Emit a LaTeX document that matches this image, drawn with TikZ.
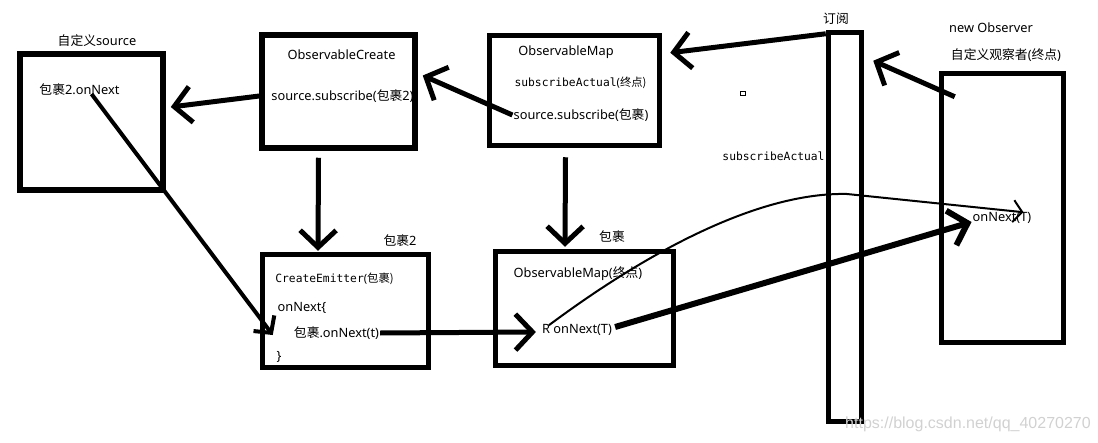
\documentclass[tikz,border=0pt]{standalone}
\usepackage{fontspec}
\setmainfont{Noto Sans}
\setmonofont{DejaVu Sans Mono}
\newfontfamily\cjk{Noto Sans CJK SC}
\newfontfamily\webfont{Liberation Sans}
\usepackage{tikz}
\usetikzlibrary{positioning,calc,arrows.meta}

\begin{document}
\begin{tikzpicture}[x=1pt, y=-1pt, every node/.style={inner sep=1pt, font=\fontsize{12.8}{15}\selectfont},
        box/.style={draw, line width=5.5pt, inner sep=0pt},
        code/.style={font=\fontsize{11.3}{13}\selectfont\ttfamily},
        arr/.style={line width=5pt, -{Straight Barb[length=17pt,width=36pt]}}]
    \useasboundingbox (0,0) rectangle (1098,442);
    % boxes
    \node[box, minimum width=143pt, minimum height=136pt] (src) at (91.5,122) {};
    \node[box, minimum width=153pt, minimum height=113pt] (create) at (338.5,91.5) {};
    \node[box, minimum width=170pt, minimum height=110pt] (map) at (574.5,90.5) {};
    \node[box, minimum width=33pt, minimum height=389pt] (bar) at (845,227) {};
    \node[box, minimum width=122pt, minimum height=269pt] (obs) at (1002.5,208) {};
    \node[box, minimum width=166pt, minimum height=113pt] (emit) at (345.5,311) {};
    \node[box, minimum width=178pt, minimum height=114pt] (mapend) at (584.5,308.5) {};
    % texts
    \node (srclabel) at (97,41) {{\cjk 自定义}source};
    \node (srcnext) at (79.5,90) {{\cjk 包裹}2.onNext};
    \node (createtitle) at (341.5,55) {ObservableCreate};
    \node (subcreate) at (342.5,96) {source.subscribe({\cjk 包裹}2)};
    \node (maptitle) at (566,52) {ObservableMap};
    \node[code] (mapactual) at (580.5,83) {subscribeActual{\normalfont(\cjk 终点)}};
    \node (submap) at (581,115) {source.subscribe({\cjk 包裹})};
    \node (barlabel) at (836,19) {\cjk 订阅};
    \node (obsnew) at (991,28) {new Observer};
    \node (obslabel) at (1006,55) {{\cjk 自定义观察者}({\cjk 终点})};
    \node[code] (actual) at (773.5,156) {subscribeActual};
    \node[draw, line width=0.8pt, minimum size=4.5pt, inner sep=0pt] (tinysq) at (743,93.5) {};
    \node (onnext) at (1002,218) {onNext(T)};
    \node (emitlabel) at (400,241) {{\cjk 包裹}2};
    \node[code] (emittitle) at (334.5,279) {CreateEmitter{\normalfont(\cjk 包裹)}};
    \node (onnextopen) at (302,308) {onNext\{};
    \node (innernext) at (336.5,333) {{\cjk 包裹}.onNext(t)};
    \node (close) at (279,357) {\}};
    \node (mapendlabel) at (612,237) {\cjk 包裹};
    \node (mapendtitle) at (578,274) {ObservableMap({\cjk 终点})};
    \node (ronext) at (577,330) {R onNext(T)};
    \node[text=black!18, font=\webfont\fontsize{16}{18}\selectfont] (web) at (968,424) {https://blog.csdn.net/qq\_40270270};
    \coordinate (peak) at (847,194);
    % arrows
    \draw[arr] (create.west |- subcreate.west) -- ($(src.east)+(5,-15)$);
    \draw[arr] (submap.west) -- ($(create.east)+(5,-16)$);
    \draw[arr] ($(bar.north west)+(0,4)$) -- ($(map.north east)+(8,20)$);
    \draw[arr] ($(obs.north west)+(16,26)$) -- ($(bar.north east)+(9,31)$);
    \draw[arr] ($(create.south)+(-20,7)$) -- ($(emit.north)+(-27.5,-1)$);
    \draw[arr] ($(map.south)+(-9,9)$) -- ($(mapend.north)+(-19.5,-2)$);
    \draw[line width=4pt, -{Straight Barb[length=12pt,width=26pt]}] ($(srcnext.center)+(12,4)$) -- ($(emit.west)+(13,24)$);
    \draw[arr] (innernext.east) -- ($(ronext.west)+(-5,2)$);
    \draw[arr, line width=6pt] ($(ronext.east)+(2,-3)$) -- ($(onnext.west)+(0,4)$);
    \draw[line width=2pt, -{Straight Barb[length=9pt,width=22pt]}] ($(ronext.north west)+(8,2)$) .. controls (650,250) and (760,192) .. (peak) -- ($(onnext.north east)+(-9,1)$);
\end{tikzpicture}
\end{document}
